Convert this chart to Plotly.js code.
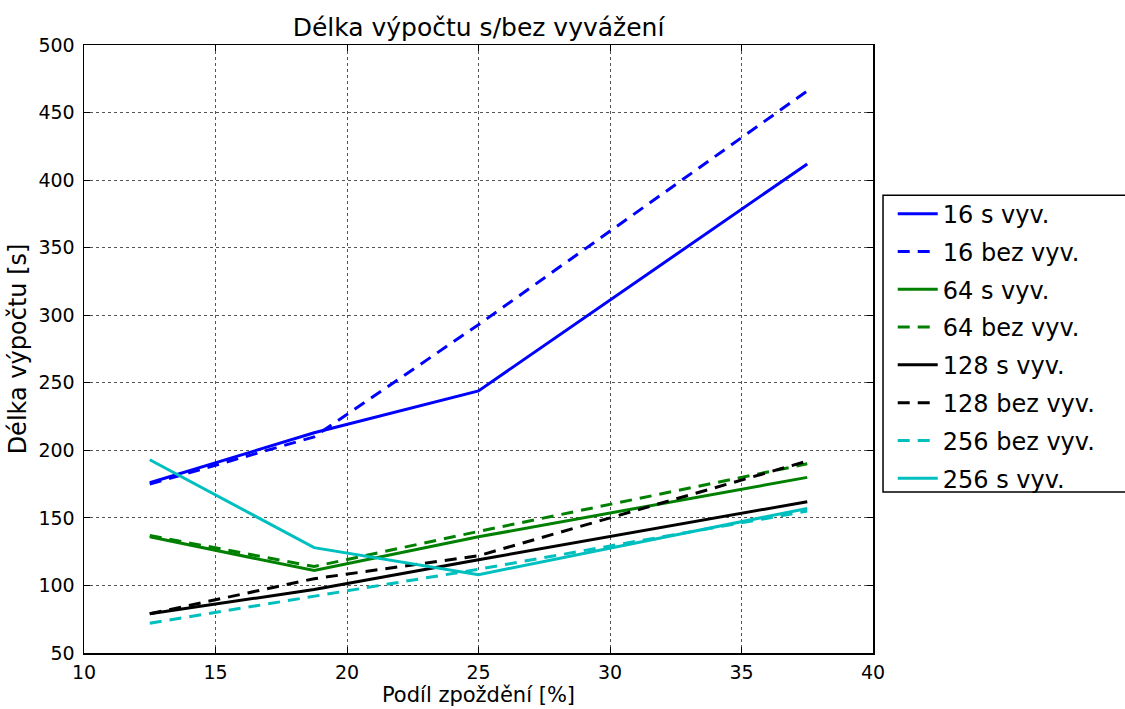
<!DOCTYPE html>
<html><head><meta charset="utf-8">
<script src="https://cdn.plot.ly/plotly-3.0.1.min.js"></script>
<style>body{margin:0;background:#fff}#c{width:1125px;height:709px}</style>
</head><body><div id="c"></div>
<script>
const x = [12.5, 18.75, 25, 37.5];
const names = ["16 s vyv.", "16 bez vyv.", "64 s vyv.", "64 bez vyv.", "128 s vyv.", "128 bez vyv.", "256 bez vyv.", "256 s vyv."];
const s16 = [176, 213, 244, 412];
const b16 = [175, 210, 293, 466];
const s64 = [136, 111, 136, 180];
const b64 = [137, 114, 140, 190];
const s128 = [79, 97, 119, 162];
const b128 = [79, 105, 122, 192];
const b256 = [72, 92, 112, 155];
const s256 = [193, 128, 108, 157];
const xTicks = [10, 15, 20, 25, 30, 35, 40];
const yTicks = [50, 100, 150, 200, 250, 300, 350, 400, 450, 500];

const series = [s16, b16, s64, b64, s128, b128, b256, s256];
const colors = ["#0000ff", "#0000ff", "#008000", "#008000", "#000000", "#000000", "#00bfbf", "#00bfbf"];
const dashes = ["solid", "dash", "solid", "dash", "solid", "dash", "dash", "solid"];

const traces = series.map((y, i) => ({
  x: x, y: y, name: names[i], type: "scatter", mode: "lines",
  legendgroup: "g" + i,
  line: {color: colors[i], width: 3, dash: dashes[i] === "dash" ? "12px,8px" : "solid"}
}));

const axisCommon = {
  showline: true, linecolor: "#000", linewidth: 1.5, mirror: "ticks",
  ticks: "inside", ticklen: 6, tickcolor: "#000",
  showgrid: true, gridcolor: "#555", griddash: "dot", gridwidth: 1,
  zeroline: false, tickfont: {family: "DejaVu Sans", size: 19, color: "#000"}
};

const layout = {
  width: 1125, height: 709,
  margin: {l: 84, r: 252, t: 45, b: 56},
  paper_bgcolor: "#fff", plot_bgcolor: "#fff",
  font: {family: "DejaVu Sans", color: "#000"},
  title: {text: "Délka výpočtu s/bez vyvážení", font: {family: "DejaVu Sans", size: 25, color: "#000"},
    xref: "paper", x: 0.5, xanchor: "center", yref: "container", y: 0.962, yanchor: "middle"},
  xaxis: Object.assign({}, axisCommon, {range: [10, 40], tickvals: xTicks, ticktext: xTicks.map(String),
    ticklabelstandoff: 2,
    title: {text: "Podíl zpoždění [%]", font: {family: "DejaVu Sans", size: 21, color: "#000"}, standoff: 5}}),
  yaxis: Object.assign({}, axisCommon, {range: [50, 500], tickvals: yTicks, ticktext: yTicks.map(String),
    ticklabelstandoff: 4,
    title: {text: "Délka výpočtu [s]", font: {family: "DejaVu Sans", size: 24, color: "#000"}, standoff: 5}}),
  legend: {x: 1.025, xanchor: "left", y: 0.759, yanchor: "top",
    borderwidth: 0, bgcolor: "rgba(0,0,0,0)",
    font: {family: "DejaVu Sans", size: 24, color: "#000"},
    itemwidth: 40,
    traceorder: "grouped", tracegroupgap: 3.6},
  shapes: [{type: "rect", xref: "paper", yref: "paper",
    x0: 1.0127, x1: 1.4, y0: (653 - 492) / 608, y1: 0.753,
    line: {color: "#000", width: 1.5}, fillcolor: "rgba(0,0,0,0)", layer: "above"}],
  showlegend: true
};

Plotly.newPlot("c", traces, layout, {displayModeBar: false, staticPlot: true});
</script></body></html>
